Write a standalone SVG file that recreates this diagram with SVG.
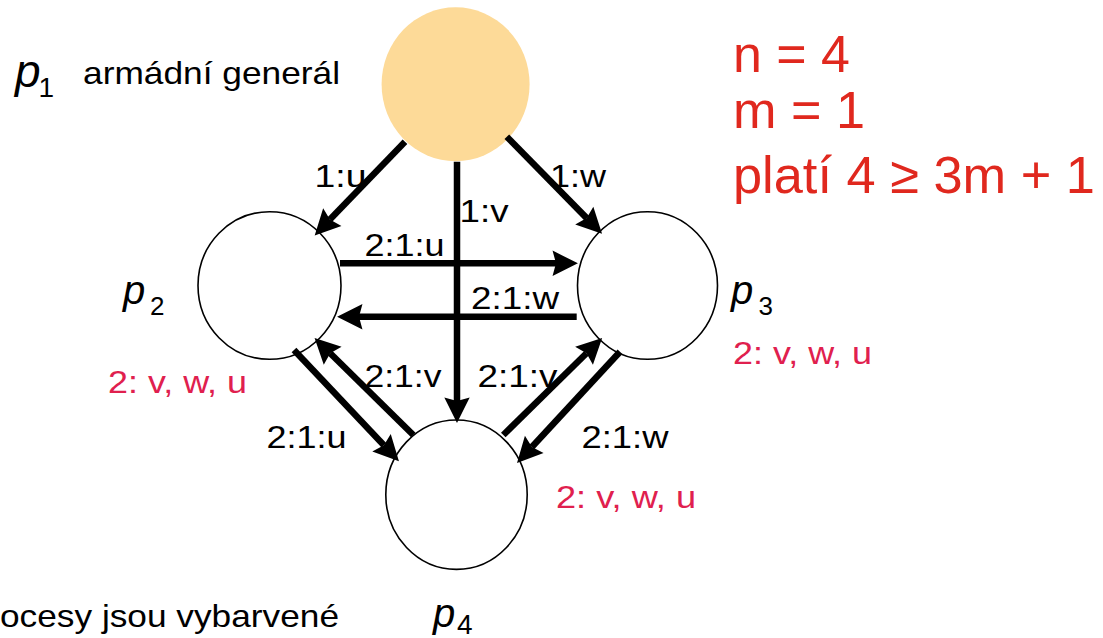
<svg xmlns="http://www.w3.org/2000/svg" width="1103" height="638" viewBox="0 0 1103 638">
<defs>
<style>
text{font-family:"Liberation Sans",Arial,sans-serif}
.lbl{font-size:31px;fill:#000}
.red{font-size:52px;fill:#E0281E}
.pink{font-size:32px;fill:#E0204E}
.txt{font-size:32px;fill:#000}
.pp{font-style:italic;fill:#000}
.sub{fill:#000}
.node{fill:#fff;stroke:#000;stroke-width:1.6}
.edge{stroke:#000;stroke-width:6.5;fill:none;marker-end:url(#ah)}
</style>
<marker id="ah" markerUnits="userSpaceOnUse" orient="auto" markerWidth="30" markerHeight="30" refX="3" refY="0" viewBox="-1 -12 26 24" overflow="visible">
<path d="M0,-11 L22,0 L0,11 L3,0 z" fill="#000"/>
</marker>
</defs>
<rect width="1103" height="638" fill="#fff"/>

<g id="p1">
<ellipse cx="455.6" cy="84.3" rx="74" ry="77" fill="#FDDA98"/>
<text class="pp" x="15" y="87" font-size="46">p</text>
<text class="sub" x="38.5" y="97" font-size="28">1</text>
<text class="txt" x="83" y="83.5" textLength="257" lengthAdjust="spacingAndGlyphs">armádní generál</text>
</g>
<g id="p2">
<ellipse class="node" cx="269.5" cy="285.5" rx="71.5" ry="73.8"/>
<text class="pp" x="123" y="303.5" font-size="40">p</text>
<text class="sub" x="150" y="315" font-size="26">2</text>
<text class="pink" x="108" y="393.3" textLength="139" lengthAdjust="spacingAndGlyphs">2: v, w, u</text>
</g>
<g id="p3">
<ellipse class="node" cx="647.5" cy="285.5" rx="70" ry="73.8"/>
<text class="pp" x="731" y="303.5" font-size="40">p</text>
<text class="sub" x="758.5" y="315" font-size="26">3</text>
<text class="pink" x="733" y="364" textLength="139" lengthAdjust="spacingAndGlyphs">2: v, w, u</text>
</g>
<g id="p4">
<ellipse class="node" cx="456.5" cy="494.7" rx="70.7" ry="74.7"/>
<text class="pp" x="433" y="626.5" font-size="40">p</text>
<text class="sub" x="457" y="634" font-size="28">4</text>
<text class="pink" x="556" y="508.3" textLength="140" lengthAdjust="spacingAndGlyphs">2: v, w, u</text>
</g>
<g id="info">
<text class="red" x="733" y="71.7" textLength="117" lengthAdjust="spacingAndGlyphs">n = 4</text>
<text class="red" x="733" y="128.3" textLength="132" lengthAdjust="spacingAndGlyphs">m = 1</text>
<text class="red" x="733" y="193.3" textLength="362" lengthAdjust="spacingAndGlyphs">platí 4 ≥ 3m + 1</text>
<text class="txt" x="0" y="626.7" textLength="339" lengthAdjust="spacingAndGlyphs">ocesy jsou vybarvené</text>
</g>
<g id="edge-labels">
<text class="lbl" x="314.5" y="186.7" textLength="52" lengthAdjust="spacingAndGlyphs">1:u</text>
<text class="lbl" x="459.5" y="221.7" textLength="49" lengthAdjust="spacingAndGlyphs">1:v</text>
<text class="lbl" x="550" y="186.7" textLength="56" lengthAdjust="spacingAndGlyphs">1:w</text>
<text class="lbl" x="364.5" y="256" textLength="80" lengthAdjust="spacingAndGlyphs">2:1:u</text>
<text class="lbl" x="471" y="309.3" textLength="88" lengthAdjust="spacingAndGlyphs">2:1:w</text>
<text class="lbl" x="364.5" y="386.7" textLength="77" lengthAdjust="spacingAndGlyphs">2:1:v</text>
<text class="lbl" x="477.5" y="386.7" textLength="80" lengthAdjust="spacingAndGlyphs">2:1:v</text>
<text class="lbl" x="266.5" y="448.3" textLength="80" lengthAdjust="spacingAndGlyphs">2:1:u</text>
<text class="lbl" x="581.5" y="447.7" textLength="87" lengthAdjust="spacingAndGlyphs">2:1:w</text>
</g>
<g id="connectors">
<line class="edge" x1="405" y1="141.7" x2="329.9" y2="219.6"/>
<line class="edge" x1="457" y1="161.7" x2="457" y2="401"/>
<line class="edge" x1="506.8" y1="136.7" x2="586.7" y2="218.1"/>
<line class="edge" x1="340" y1="263.3" x2="556" y2="263.3"/>
<line class="edge" x1="576.7" y1="316.7" x2="359" y2="316.7"/>
<line class="edge" x1="294" y1="350" x2="383.9" y2="445.2"/>
<line class="edge" x1="413.3" y1="435" x2="330.2" y2="353.3"/>
<line class="edge" x1="503.3" y1="435" x2="586.5" y2="353.3"/>
<line class="edge" x1="620" y1="351.7" x2="531.9" y2="447"/>
</g>
</svg>
